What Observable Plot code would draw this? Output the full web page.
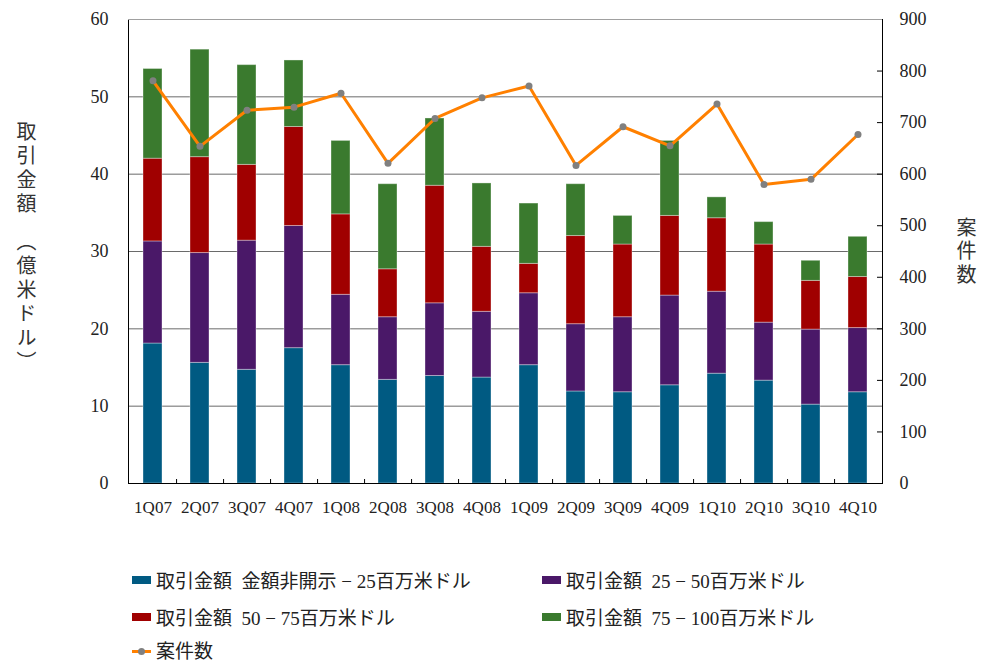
<!DOCTYPE html>
<html><head><meta charset="utf-8">
<script src="https://cdn.jsdelivr.net/npm/d3@7"></script>
<script src="https://cdn.jsdelivr.net/npm/@observablehq/plot@0.6"></script>
<style>
body{margin:0;background:#fff;}
#wrap{position:relative;width:981px;height:663px;overflow:hidden;font-family:"Noto Sans CJK JP",sans-serif;background:#fff;}
#chart{position:absolute;left:0;top:0;}
.vt{position:absolute;writing-mode:vertical-rl;font-size:20px;color:#333;line-height:1;}
.leg{position:absolute;font-family:"Liberation Serif","Noto Sans CJK JP",serif;font-size:19px;color:#222;display:flex;align-items:center;white-space:pre;height:16px;line-height:16px;}
.sw{display:inline-block;width:19px;height:8px;margin-right:5px;position:relative;top:-2px;}
.ln{position:relative;display:inline-block;width:19px;height:10px;margin-right:5px;top:-1px;}
.ln::before{content:"";position:absolute;left:0;right:0;top:3.5px;height:3px;background:#FF8000;}
.ln::after{content:"";position:absolute;left:6px;top:1.5px;width:7px;height:7px;border-radius:50%;background:#808080;}
</style></head><body><div id="wrap"><div id="chart"></div>
<div class="vt" style="left:16px;top:121px;letter-spacing:4px;">取引金額　（億米ドル）</div>
<div class="vt" style="left:956px;top:217px;letter-spacing:3.5px;">案件数</div>
</div>
<script>
const quarters = ["1Q07","2Q07","3Q07","4Q07","1Q08","2Q08","3Q08","4Q08","1Q09","2Q09","3Q09","4Q09","1Q10","2Q10","3Q10","4Q10"];
const segNames = ["取引金額  金額非開示 − 25百万米ドル","取引金額  25 − 50百万米ドル","取引金額  50 − 75百万米ドル","取引金額  75 − 100百万米ドル"];
const segColors = ["#005A82","#4A1868","#A00000","#3A7A2E"];
const seg1 = [18.1,15.6,14.7,17.5,15.3,13.4,13.9,13.7,15.3,11.9,11.8,12.7,14.2,13.3,10.2,11.8];
const seg2 = [13.2,14.2,16.7,15.8,9.1,8.1,9.4,8.5,9.3,8.7,9.7,11.6,10.6,7.5,9.7,8.3];
const seg3 = [10.7,12.4,9.8,12.8,10.4,6.2,15.2,8.4,3.8,11.4,9.4,10.3,9.5,10.1,6.3,6.6];
const seg4 = [11.6,13.9,12.9,8.6,9.5,11.0,8.7,8.2,7.8,6.7,3.7,9.7,2.7,2.9,2.6,5.2];
const counts = [781,654,724,730,757,621,708,748,771,617,692,655,736,580,590,677];
const countLabel = "案件数";
const leftTicks = [0,10,20,30,40,50,60];
const rightTicks = [0,100,200,300,400,500,600,700,800,900];

const segValues = [seg1,seg2,seg3,seg4];
const rows = [];
segNames.forEach((s,k)=>quarters.forEach((q,i)=>rows.push({q, seg:s, v:segValues[k][i]})));
const lineData = quarters.map((q,i)=>({q, n:counts[i]}));
const K = 900/60;
const W = 981, H = 540, mL = 128, mR = 99, mT = 19, mB = 57;
const pw = W - mL - mR, ph = H - mT - mB;

const plot = Plot.plot({
  width:W, height:H, marginLeft:mL, marginRight:mR, marginTop:mT, marginBottom:mB,
  style:{fontFamily:"'Liberation Serif', serif", fontSize:"17px", color:"#222", background:"white"},
  x:{domain:quarters, paddingInner:0.6, paddingOuter:0.3},
  y:{domain:[0,60]},
  color:{domain:segNames, range:segColors},
  marks:[
    Plot.ruleY(leftTicks.slice(1,-1), {stroke:"#6a6a6a"}),
    Plot.barY(rows, {x:"q", y:"v", fill:"seg", stroke:"#ffffff", strokeOpacity:0.35, strokeWidth:1}),
    Plot.frame({stroke:"#000"}),
    Plot.ruleY([60], {stroke:"#a0a0a0"}),
    Plot.ruleY(rightTicks.slice(1,-1), {y:d=>d/K, insetLeft:pw-5, stroke:"#000"}),
    Plot.ruleX(quarters.slice(0,-1), {x:d=>d, dx:pw/32, insetTop:ph-4, stroke:"#000"}),
    Plot.axisX({tickSize:0, tickPadding:17, label:null, fontSize:17}),
    Plot.axisY({anchor:"left", ticks:leftTicks, tickSize:0, tickPadding:20, label:null, fontSize:18}),
    Plot.axisY({anchor:"right", ticks:rightTicks.map(d=>d/K), tickFormat:d=>String(Math.round(d*K)), tickSize:0, tickPadding:17, label:null, fontSize:18}),
    Plot.line(lineData, {x:"q", y:d=>d.n/K, stroke:"#FF8000", strokeWidth:3}),
    Plot.dot(lineData, {x:"q", y:d=>d.n/K, fill:"#808080", r:3.5})
  ]
});
document.getElementById("chart").appendChild(plot);

const wrap = document.getElementById("wrap");
const legPos = [[132,574],[542,574],[132,611],[542,611]];
segNames.forEach((s,k)=>{
  const d = document.createElement("div");
  d.className = "leg";
  d.style.left = legPos[k][0]+"px"; d.style.top = legPos[k][1]+"px";
  d.innerHTML = `<span class="sw" style="background:${segColors[k]}"></span>`;
  d.appendChild(document.createTextNode(s));
  wrap.appendChild(d);
});
const dl = document.createElement("div");
dl.className = "leg"; dl.style.left = "132px"; dl.style.top = "644px";
dl.innerHTML = `<span class="ln"></span>`;
dl.appendChild(document.createTextNode(countLabel));
wrap.appendChild(dl);
</script></body></html>
